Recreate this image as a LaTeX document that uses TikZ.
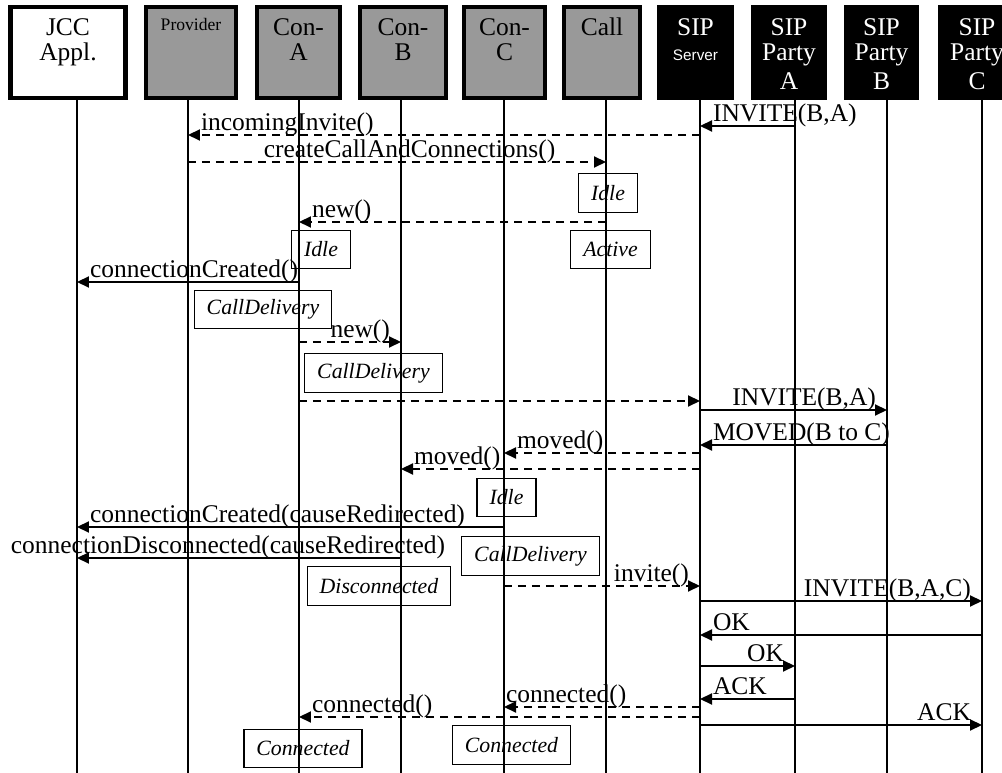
\documentclass[tikz,border=0pt]{standalone}
\usepackage{fontspec}
\setmainfont{Liberation Serif}
\newfontfamily\srvfont{Liberation Sans}
\usetikzlibrary{arrows.meta}
\definecolor{objgrey}{gray}{0.6}

\begin{document}
\begin{tikzpicture}[
  x=0.02cm, y=0.02cm,
  font=\fontsize{14.5}{14.5}\selectfont,
  obj/.style={draw,line width=2.5pt,minimum height=1.81cm,inner sep=0pt},
  appl/.style={obj,fill=white},
  jcc/.style={obj,fill=objgrey},
  sip/.style={obj,fill=black},
  hd/.style={anchor=north,yshift=-0.255cm,align=center,inner sep=0pt,
    font=\fontsize{14.5}{14.5}\selectfont},
  life/.style={line width=0.6pt},
  sig/.style={line width=1.2pt,-{Triangle[length=0.24cm,width=0.22cm]}},
  meth/.style={sig,dash pattern=on 0.16cm off 0.12cm},
  lt/.style={anchor=base west,inner sep=0pt,xshift=0.24cm,yshift=0.08cm},
  rt/.style={anchor=base east,inner sep=0pt,xshift=-0.2cm,yshift=0.08cm},
  state/.style={draw,line width=0.8pt,minimum height=0.77cm,inner xsep=0.25cm,
    font=\fontsize{12.4}{12.4}\selectfont\itshape}]
\useasboundingbox (0,0) rectangle (1002,-773);

% objects
\node[appl,minimum width=2.3cm,label={[hd]north:JCC\\Appl.}] (jcc) at (68,-52.5) {};
\node[jcc,minimum width=1.79cm,label={[hd,font=\fontsize{10}{12}\selectfont]north:Provider}] (prov) at (191,-52.5) {};
\node[jcc,minimum width=1.65cm,label={[hd]north:Con-\\A}] (cona) at (298.5,-52.5) {};
\node[jcc,minimum width=1.71cm,label={[hd]north:Con-\\B}] (conb) at (403,-52.5) {};
\node[jcc,minimum width=1.61cm,label={[hd]north:Con-\\C}] (conc) at (504.5,-52.5) {};
\node[jcc,minimum width=1.51cm,label={[hd]north:Call}] (call) at (602,-52.5) {};
\node[sip,minimum width=1.45cm,label={[hd,text=white]north:SIP\\{\srvfont\fontsize{8.7}{10}\selectfont Server}}] (srv) at (695.5,-52.5) {};
\node[sip,minimum width=1.43cm,label={[hd,text=white]north:SIP\\Party\\[2pt]A}] (pa) at (789,-52.5) {};
\node[sip,minimum width=1.41cm,label={[hd,text=white]north:SIP\\Party\\[2pt]B}] (pb) at (881.5,-52.5) {};
\node[sip,minimum width=1.47cm,label={[hd,text=white]north:SIP\\Party\\[2pt]C}] (pc) at (977,-52.5) {};

% lifelines
\foreach \n/\x in {jcc/77,prov/188,cona/299,conb/401,conc/504,call/606,srv/700,pa/795,pb/887,pc/982}{
  \coordinate (\n-l) at (\x,-100);
  \draw[life] (\n-l) -- ++(0,-675);
}

% message rows
\foreach \r/\y in {1/126,2/135,3/162,4/222,5/282,6/342,7/401,8/410,9/445,10/453,11/469,
  12/527,13/558,14/586,15/601,16/635,17/666,18/699,19/707,20/717,21/725}
  \coordinate (m\r) at (0,-\y);

% messages
\draw[sig] (pa-l |- m1) -- (srv-l |- m1) node[lt] {INVITE(B,A)};
\draw[meth] (srv-l |- m2) -- (prov-l |- m2) node[lt] {incomingInvite()};
\draw[meth] (prov-l |- m3) -- (call-l |- m3)
  node[midway,anchor=base,inner sep=0pt,xshift=0.25cm,yshift=0.08cm] {createCallAndConnections()};
\draw[meth] (call-l |- m4) -- (cona-l |- m4) node[lt] {new()};
\draw[sig] (cona-l |- m5) -- (jcc-l |- m5) node[lt] {connectionCreated()};
\draw[meth] (cona-l |- m6) -- (conb-l |- m6) node[rt] {new()};
\draw[meth] (cona-l |- m7) -- (srv-l |- m7);
\draw[sig] (srv-l |- m8) -- (pb-l |- m8) node[rt] {INVITE(B,A)};
\draw[sig] (pb-l |- m9) -- (srv-l |- m9) node[lt] {MOVED(B to C)};
\draw[meth] (srv-l |- m10) -- (conc-l |- m10) node[lt] {moved()};
\draw[meth] (srv-l |- m11) -- (conb-l |- m11) node[lt] {moved()};
\draw[sig] (conc-l |- m12) -- (jcc-l |- m12) node[lt] {connectionCreated(causeRedirected)};
\draw[sig] (conb-l |- m13) -- (jcc-l |- m13)
  node[midway,anchor=base,inner sep=0pt,xshift=-0.22cm,yshift=0.08cm] {connectionDisconnected(causeRedirected)};
\draw[meth] (conc-l |- m14) -- (srv-l |- m14) node[rt] {invite()};
\draw[sig] (srv-l |- m15) -- (pc-l |- m15) node[rt] {INVITE(B,A,C)};
\draw[sig] (pc-l |- m16) -- (srv-l |- m16) node[lt] {OK};
\draw[sig] (srv-l |- m17) -- (pa-l |- m17) node[rt] {OK};
\draw[sig] (pa-l |- m18) -- (srv-l |- m18) node[lt] {ACK};
\draw[meth] (srv-l |- m19) -- (conc-l |- m19) node[lt,xshift=-0.22cm] {connected()};
\draw[meth] (srv-l |- m20) -- (cona-l |- m20) node[lt] {connected()};
\draw[sig] (srv-l |- m21) -- (pc-l |- m21) node[rt] {ACK};

% states
\node[state] (idleCall) at (608,-193) {Idle};
\node[state] (idleA) at (321,-249.5) {Idle};
\node[state] (activeCall) at (610.5,-249.5) {Active};
\node[state] (delivA) at (263,-309.5) {CallDelivery};
\node[state] (delivB) at (373.5,-373) {CallDelivery};
\node[state] (idleC) at (506.5,-497.5) {Idle};
\node[state] (delivC) at (530.5,-556) {CallDelivery};
\node[state] (discB) at (379,-586) {Disconnected};
\node[state] (connA) at (303,-748.5) {Connected};
\node[state] (connC) at (511.5,-745) {Connected};
\end{tikzpicture}
\end{document}
